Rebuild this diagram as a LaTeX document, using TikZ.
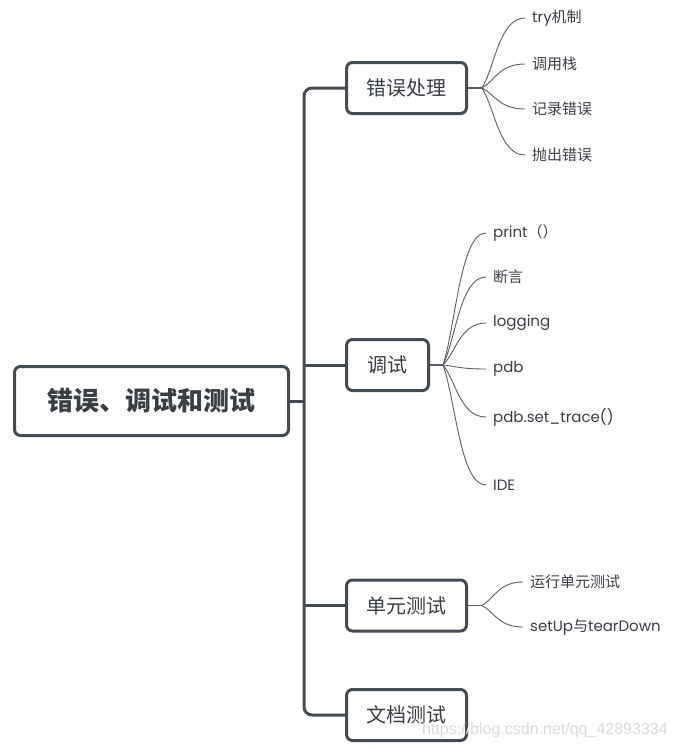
\documentclass[tikz,border=0pt]{standalone}
\usepackage{fontspec}
\usetikzlibrary{calc}
\setmainfont{Poppins}
\newfontfamily\cjk{Noto Sans CJK SC}
\newfontfamily\wmfont{Liberation Sans}
\definecolor{boxc}{HTML}{454B53}
\definecolor{txtc}{HTML}{3A3F46}
\definecolor{twigc}{HTML}{5A5F66}
\definecolor{wmc}{HTML}{D9D9D9}
\begin{document}
\begin{tikzpicture}[x=1pt,y=-1pt,
  trunk/.style={draw=boxc, line width=3pt, rounded corners=8pt},
  box/.style={draw=boxc, line width=3pt, rounded corners=6pt, fill=white, text=txtc,
    font=\cjk\fontsize{20}{24}\selectfont, minimum width=120pt, minimum height=51pt, inner sep=0pt},
  rootbox/.style={box, font=\cjk\bfseries\fontsize{26}{30}\selectfont, minimum width=274pt, minimum height=69pt},
  leaf/.style={anchor=west, inner xsep=7pt, inner ysep=0pt, text=txtc, font=\fontsize{15}{18}\selectfont},
  twig/.style={draw=twigc, line width=0.9pt},
  stem/.style={draw=twigc, line width=1.2pt},
]
\useasboundingbox (0,0) rectangle (675,748);

% root and trunk
\node[rootbox] (root) at (151.5,401) {错误、调试和测试};
\coordinate (tx) at (304,401);

\node[box] (b1) at (406.5,88) {错误处理};
\node[box, minimum width=82pt] (b2) at (387.5,365) {调试};
\node[box] (b3) at (406.5,605.5) {单元测试};
\node[box] (b4) at (406.5,715) {文档测试};

\draw[trunk] (b1.west) -- (tx |- b1.west) -- (tx |- b4.west) -- (b4.west);
\draw[trunk] (root.east) -- (tx);
\draw[trunk] (tx |- b2.west) -- (b2.west);
\draw[trunk] (tx |- b3.west) -- (b3.west);

% junctions
\coordinate (j1) at (482,88);
\coordinate (j2) at (443,365);
\coordinate (j3) at (482,605.5);

% leaves of b1
\node[leaf] (l11) at (525,18) {try{\cjk 机制}};
\node[leaf] (l12) at (525,64) {\cjk 调用栈};
\node[leaf] (l13) at (525,109) {\cjk 记录错误};
\node[leaf] (l14) at (525,155) {\cjk 抛出错误};

% leaves of b2
\node[leaf] (l21) at (486,233) {print{\cjk （）}};
\node[leaf] (l22) at (486,277) {\cjk 断言};
\node[leaf] (l23) at (486,323) {logging};
\node[leaf] (l24) at (486,369) {pdb};
\node[leaf] (l25) at (486,417) {pdb.set\_trace()};
\node[leaf] (l26) at (486,485) {IDE};

% leaves of b3
\node[leaf] (l31) at (523,582) {\cjk 运行单元测试};
\node[leaf] (l32) at (523,627) {setUp{\cjk 与}tearDown};

\draw[stem] (b1.east) -- (j1);
\draw[stem] (b2.east) -- (j2);
\draw[stem] (b3.east) -- (j3);

\foreach \j/\l in {j1/l11,j1/l12,j1/l13,j1/l14,j2/l21,j2/l22,j2/l23,j2/l24,j2/l25,j2/l26,j3/l31,j3/l32}
  \draw[twig] (\j) .. controls ($(\j)!0.3!(\l.west)$) and ($(\j |- \l.west)!0.4!(\l.west)$) .. (\l.west);

% watermark
\node[anchor=west, inner sep=0pt, text=wmc, font=\wmfont\fontsize{16}{19}\selectfont] (wm) at (422,730) {https://blog.csdn.net/qq\_42893334};
\end{tikzpicture}
\end{document}
